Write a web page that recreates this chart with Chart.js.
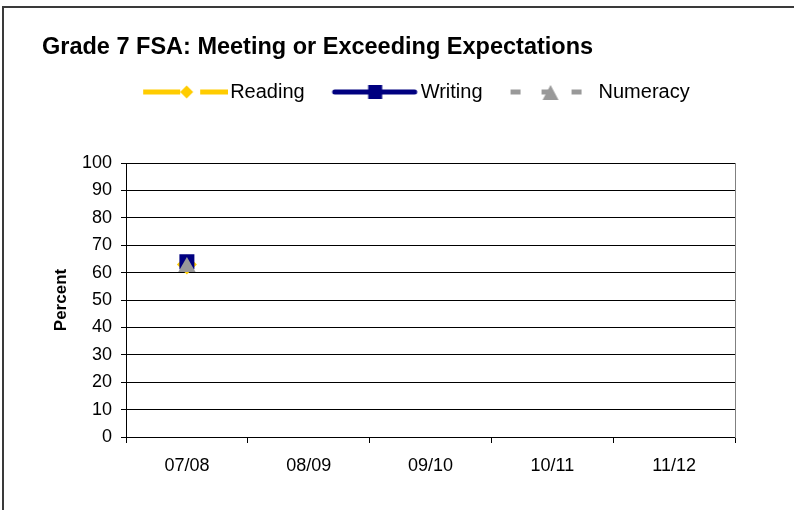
<!DOCTYPE html>
<html>
<head>
<meta charset="utf-8">
<script src="https://cdn.jsdelivr.net/npm/chart.js@4.4.1/dist/chart.umd.min.js"></script>
<style>
  html, body { margin: 0; padding: 0; background: #fff; }
  #wrap { position: relative; width: 794px; height: 510px; }
</style>
</head>
<body>
<div id="wrap"><canvas id="c" width="794" height="510"></canvas></div>
<script>
// ---- data ----
const categories = ['07/08', '08/09', '09/10', '10/11', '11/12'];
const readingValues = [63, null, null, null, null];
const writingValues = [64, null, null, null, null];
const numeracyValues = [62, null, null, null, null];
const yTicks = [0, 10, 20, 30, 40, 50, 60, 70, 80, 90, 100];
const titleText = 'Grade 7 FSA: Meeting or Exceeding Expectations';
const yTitle = 'Percent';

const FONT = "'Liberation Sans', Arial, sans-serif";
const YELLOW = '#FFCC00', NAVY = '#000080', GRAY = '#999999';

// legend sample images (line + marker)
function makeImg(draw) {
  const c = document.createElement('canvas');
  c.width = 112; c.height = 24;
  const g = c.getContext('2d');
  draw(g);
  return c;
}
const cy = 12;
const imgReading = makeImg(g => {
  g.fillStyle = YELLOW;
  g.fillRect(27, cy - 2.5, 37, 5);
  g.fillRect(84, cy - 2.5, 28, 5);
  g.beginPath();
  g.moveTo(70.5, cy - 6.5); g.lineTo(77, cy); g.lineTo(70.5, cy + 6.5); g.lineTo(64, cy);
  g.closePath(); g.fill();
});
const imgWriting = makeImg(g => {
  g.strokeStyle = NAVY; g.lineWidth = 5; g.lineCap = 'round';
  g.beginPath(); g.moveTo(28, cy); g.lineTo(108, cy); g.stroke();
  g.fillStyle = NAVY;
  g.fillRect(61.5, cy - 7, 14, 14);
});
const imgNumeracy = makeImg(g => {
  g.fillStyle = GRAY;
  g.fillRect(26, cy - 2.5, 10, 5);
  g.fillRect(57, cy - 2.5, 10, 5);
  g.fillRect(87, cy - 2.5, 10, 5);
  g.beginPath();
  g.moveTo(66, cy - 7); g.lineTo(74, cy + 8); g.lineTo(58, cy + 8);
  g.closePath(); g.fill();
});

const frame = {
  id: 'frame',
  beforeDraw(chart) {
    const ctx = chart.ctx;
    ctx.save();
    ctx.fillStyle = '#fff';
    ctx.fillRect(0, 0, chart.width, chart.height);
    ctx.fillStyle = '#3a3a3a';
    ctx.fillRect(2, 6, chart.width, 2);
    ctx.fillRect(2, 6, 2, chart.height);
    ctx.restore();
  }
};

Chart.defaults.font.family = FONT;
Chart.defaults.color = '#000';

new Chart(document.getElementById('c'), {
  type: 'line',
  data: {
    labels: categories,
    datasets: [
      { label: 'Numeracy', data: numeracyValues, borderColor: GRAY, backgroundColor: GRAY,
        borderDash: [6, 6], borderWidth: 3, pointStyle: 'triangle', pointRadius: 10,
        pointBackgroundColor: GRAY, pointBorderColor: GRAY, pointBorderWidth: 0, spanGaps: false },
      { label: 'Writing', data: writingValues, borderColor: NAVY, backgroundColor: NAVY,
        borderWidth: 3, pointStyle: 'rect', pointRadius: 10.6,
        pointBackgroundColor: NAVY, pointBorderColor: NAVY, pointBorderWidth: 0 },
      { label: 'Reading', data: readingValues, borderColor: YELLOW, backgroundColor: YELLOW,
        borderWidth: 3, pointStyle: 'rectRot', pointRadius: 10,
        pointBackgroundColor: YELLOW, pointBorderColor: YELLOW, pointBorderWidth: 0 }
    ]
  },
  options: {
    responsive: false,
    animation: false,
    events: [],
    layout: { padding: { top: 0, left: 42, right: 22.18, bottom: 0 } },
    plugins: {
      tooltip: { enabled: false },
      title: {
        display: true, text: titleText, align: 'start',
        font: { size: 23.5, weight: 'bold', family: FONT, lineHeight: 1.2 },
        color: '#000', padding: { top: 33, bottom: 10.8 }
      },
      legend: {
        display: true, position: 'top', align: 'center',
        labels: {
          usePointStyle: true, pointStyleWidth: 96, boxHeight: 20, padding: 10,
          font: { size: 20, family: FONT }, color: '#000',
          generateLabels: () => [
            { text: 'Reading', pointStyle: imgReading, fillStyle: 'rgba(0,0,0,0)', strokeStyle: 'rgba(0,0,0,0)', lineWidth: 0, hidden: false, datasetIndex: 2 },
            { text: 'Writing', pointStyle: imgWriting, fillStyle: 'rgba(0,0,0,0)', strokeStyle: 'rgba(0,0,0,0)', lineWidth: 0, hidden: false, datasetIndex: 1 },
            { text: 'Numeracy', pointStyle: imgNumeracy, fillStyle: 'rgba(0,0,0,0)', strokeStyle: 'rgba(0,0,0,0)', lineWidth: 0, hidden: false, datasetIndex: 0 }
          ]
        }
      }
    },
    scales: {
      x: {
        type: 'category', position: 'bottom', offset: true,
        grid: { display: true, offset: true, drawOnChartArea: false, drawTicks: true, tickLength: 6, color: '#000', lineWidth: 1 },
        border: { display: true, color: '#000', width: 1 },
        ticks: { font: { size: 18, family: FONT }, color: '#000', padding: 12, maxRotation: 0, autoSkip: false },
        afterFit: s => { s.height = 73; }
      },
      y: {
        type: 'linear', position: 'left', min: 0, max: 100,
        afterBuildTicks: s => { s.ticks = yTicks.map(v => ({ value: v })); },
        grid: { display: true, drawOnChartArea: true, drawTicks: true, tickLength: 5, color: '#000', lineWidth: 1 },
        border: { display: true, color: '#000', width: 1 },
        ticks: { font: { size: 18, family: FONT }, color: '#000', padding: 9 },
        title: { display: true, text: yTitle, font: { size: 17, weight: 'bold', family: FONT }, color: '#000', padding: { top: 9, bottom: 0 } },
        afterFit: s => { s.width = 84; }
      },
      yR: {
        type: 'linear', position: 'right', min: 0, max: 1, display: true,
        grid: { display: false, drawTicks: false },
        border: { display: true, color: '#808080', width: 1 },
        ticks: { display: false },
        afterFit: s => { s.width = 36.82; }
      },
      xT: {
        type: 'linear', position: 'top', min: 0, max: 1, display: true,
        grid: { display: false, drawTicks: false },
        border: { display: false },
        ticks: { display: false },
        afterFit: s => { s.height = 51; }
      }
    }
  },
  plugins: [frame]
});
</script>
</body>
</html>
